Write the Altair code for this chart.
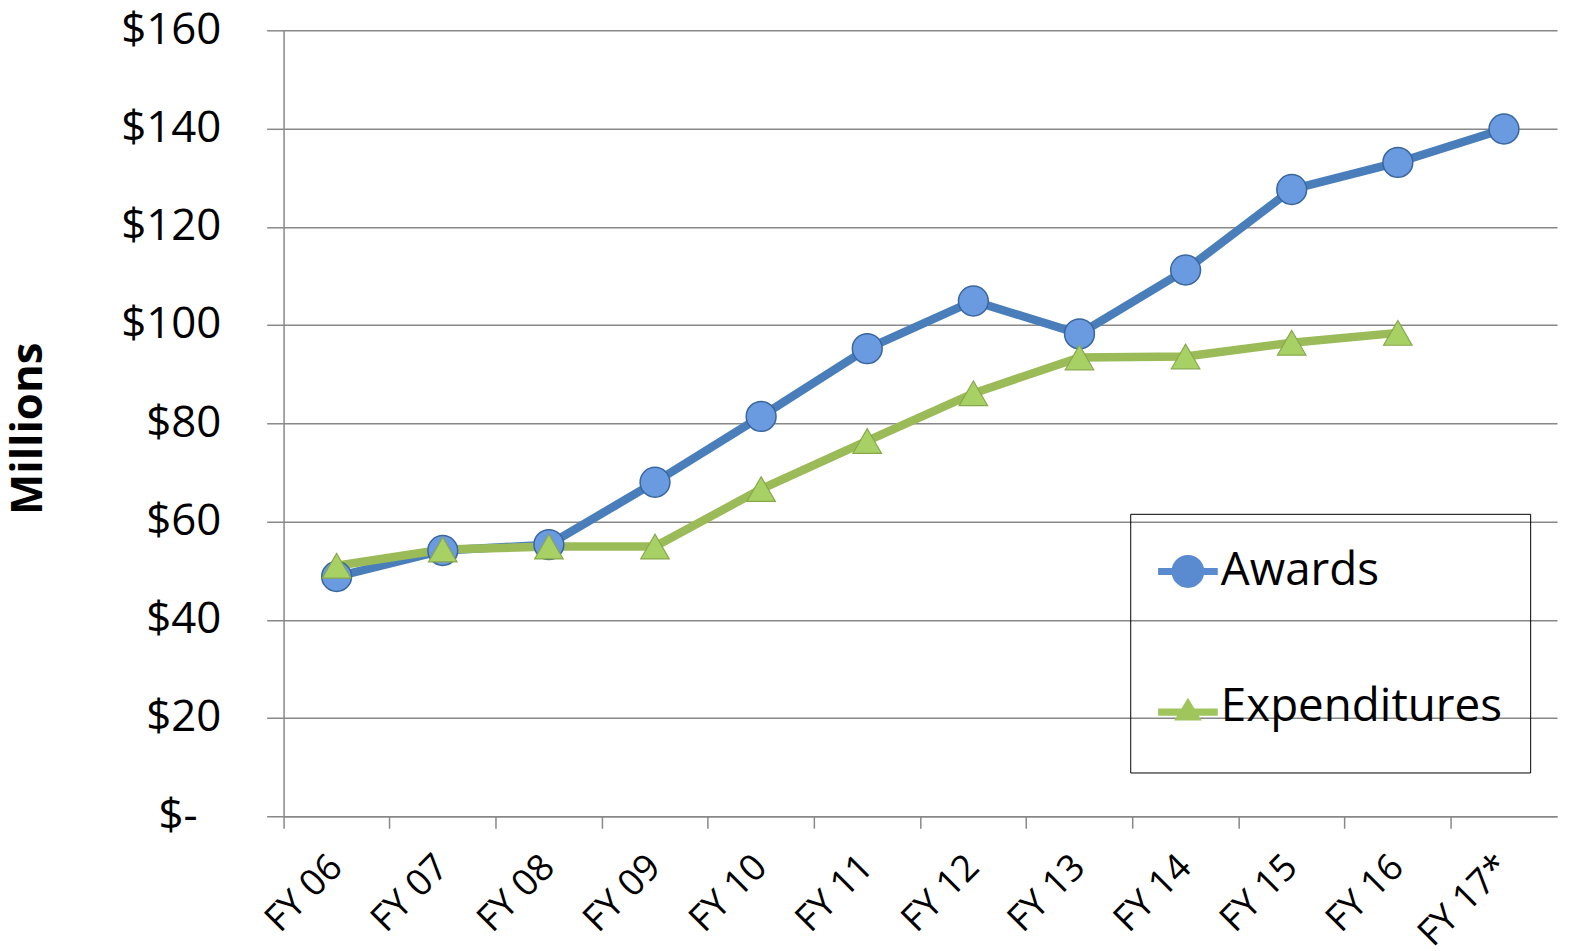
import altair as alt
import pandas as pd

years = ["FY 06", "FY 07", "FY 08", "FY 09", "FY 10", "FY 11",
         "FY 12", "FY 13", "FY 14", "FY 15", "FY 16", "FY 17*"]
awards = [48.8, 54.1, 55.3, 68.0, 81.4, 95.2, 104.9, 98.2, 111.2, 127.6, 133.1, 139.9]
expenditures = [51.0, 54.3, 54.9, 54.9, 66.6, 76.4, 86.1, 93.4, 93.6, 96.4, 98.4]
series = ["Awards", "Expenditures"]
y_ticks = [0, 20, 40, 60, 80, 100, 120, 140, 160]

rows = []
for yr, v in zip(years, awards):
    rows.append({"year": yr, "value": v, "series": "Awards"})
for yr, v in zip(years, expenditures):
    rows.append({"year": yr, "value": v, "series": "Expenditures"})
df = pd.DataFrame(rows)

FONT = "Open Sans"
line_colors = ["#4a7ebb", "#9bbb59"]
legend_colors = ["#5a8bd0", "#9fc55c"]

# legend glyphs: line segment + marker; tiny invisible subpaths widen the row height
pad_v = "M0,-1.25L0.001,-1.25Z M0,1.25L0.001,1.25Z "
circle_path = (pad_v + "M-1,-0.12L1,-0.12L1,0.12L-1,0.12Z "
               "M0.55,0A0.55,0.55,0,1,1,-0.55,0A0.55,0.55,0,1,1,0.55,0Z")
tri_path = (pad_v + "M-1,0.06L1,0.06L1,0.3L-1,0.3Z "
            "M0,-0.3L0.46,0.46L-0.46,0.46Z")

x_enc = alt.X("year:N", sort=years,
              scale=alt.Scale(type="band", domain=years, paddingInner=0, paddingOuter=0),
              axis=alt.Axis(title=None, bandPosition=0, labelAngle=-45, labelAlign="right",
                            labelBaseline="middle", labelOffset=0, labelPadding=33,
                            labelFont=FONT, labelFontSize=37, labelColor="black",
                            tickSize=12, tickColor="#888888", tickWidth=1.5,
                            domainColor="#888888", domainWidth=1.5, grid=False))
y_enc = alt.Y("value:Q",
              scale=alt.Scale(domain=[0, 160], nice=False),
              axis=alt.Axis(title="Millions", values=y_ticks,
                            labelExpr="datum.value == 0 ? '$-' : '$' + datum.value",
                            labelFont=FONT, labelFontSize=44, labelColor="black",
                            labelPadding={"condition": {"test": "datum.value == 0", "value": 70},
                                          "value": 46},
                            tickSize=17, tickColor="#888888", tickWidth=1.5,
                            domainColor="#888888", domainWidth=1.5,
                            grid=True, gridColor="#888888", gridWidth=1.5,
                            titleFont=FONT, titleFontSize=44, titleFontWeight="bold",
                            titleColor="black", titleAngle=-90, titleX=-256, titleY=400,
                            titleAlign="center", titleBaseline="middle"))

legend_props = dict(title=None, orient="none", legendX=851, legendY=486,
                    labelFont=FONT, labelFontSize=46, labelColor="black", labelLimit=600,
                    padding=28, rowPadding=60, labelOffset=3,
                    symbolSize=3600, symbolStrokeWidth=0, symbolOpacity=1,
                    strokeColor="black")

lines = alt.Chart(df).mark_line(strokeWidth=8.5).encode(
    x=x_enc, y=y_enc,
    stroke=alt.Stroke("series:N", scale=alt.Scale(domain=series, range=line_colors),
                      legend=alt.Legend(**legend_props)),
    detail="series:N",
)

award_pts = alt.Chart(df).transform_filter(alt.datum.series == "Awards").mark_point(
    shape="circle", filled=True, opacity=1, size=900, fill="#6a9ae0",
    stroke="#3a669e", strokeWidth=1.5
).encode(x=x_enc, y=y_enc)

exp_pts = alt.Chart(df).transform_filter(alt.datum.series == "Expenditures").mark_point(
    shape="triangle-up", filled=True, opacity=1, size=820, fill="#a8d165",
    stroke="#87a84a", strokeWidth=1.2
).encode(x=x_enc, y=y_enc)

legend_layer = alt.Chart(df).mark_point(filled=True, opacity=0).encode(
    x=x_enc, y=y_enc,
    shape=alt.Shape("series:N",
                    scale=alt.Scale(domain=series, range=[circle_path, tri_path]),
                    legend=alt.Legend(**legend_props)),
    color=alt.Color("series:N", scale=alt.Scale(domain=series, range=legend_colors),
                    legend=alt.Legend(**legend_props)),
)

chart = alt.layer(lines, award_pts, exp_pts, legend_layer).properties(
    width=1280, height=790,
    autosize=alt.AutoSizeParams(type="none"),
    padding={"left": 277, "top": 20, "right": 5, "bottom": 130},
).configure_view(stroke=None)

chart.save("out.html", embed_options={"renderer": "svg", "actions": False})
